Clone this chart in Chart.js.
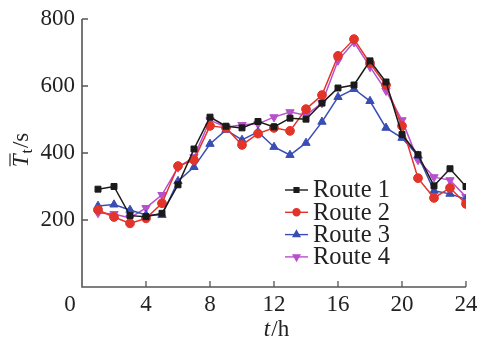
<!DOCTYPE html>
<html><head><meta charset="utf-8">
<script src="https://cdn.jsdelivr.net/npm/chart.js@4/dist/chart.umd.min.js"></script>
<style>html,body{margin:0;padding:0;background:#fff}#wrap{width:477px;height:345px}</style>
</head><body><div id="wrap"><canvas id="c" width="477" height="345"></canvas></div>
<script>
const hours = [1,2,3,4,5,6,7,8,9,10,11,12,13,14,15,16,17,18,19,20,21,22,23,24];
const seriesNames = ['Route 1','Route 2','Route 3','Route 4'];
const route1 = [292,300,213,210,220,305,412,507,480,475,494,478,504,501,549,594,603,675,612,455,395,302,353,300];
const route2 = [230,209,190,205,250,361,379,481,475,424,458,475,466,531,573,690,740,668,603,481,325,266,296,248];
const route3 = [242,246,230,215,215,316,358,427,469,439,463,418,394,430,493,567,591,555,475,445,392,287,278,262];
const route4 = [221,218,206,236,275,357,388,498,477,484,487,507,522,513,549,676,731,657,586,498,379,328,319,269];
const xTicks = [0,4,8,12,16,20,24];
const yTicks = [0,200,400,600,800];

const FONT = '"Liberation Serif", "Times New Roman", serif';
const AXIS = '#555';
const colors = ['#1a1a1a','#e3342a','#3a4db4','#b84fcc'];
const styles = ['rect','circle','triangle','triangle'];
const rots = [0,0,0,180];
const radii = [4.2,4.4,4.8,4.8];
const allData = [route1,route2,route3,route4];

const datasets = allData.map((d,i)=>({
  label: seriesNames[i],
  data: hours.map((h,j)=>({x:h,y:d[j]})),
  borderColor: colors[i],
  backgroundColor: colors[i],
  borderWidth: 1.5,
  pointStyle: styles[i],
  pointRotation: rots[i],
  pointRadius: radii[i],
  pointBorderWidth: 1,
  tension: 0
}));

const deco = {
  id:'deco',
  afterDraw(chart){
    const ctx = chart.ctx, xs = chart.scales.x, ys = chart.scales.y;
    const L = xs.left, B = ys.bottom, T = ys.top, R = xs.right;
    ctx.save();
    ctx.strokeStyle = AXIS; ctx.lineWidth = 1.6;
    ctx.beginPath(); ctx.moveTo(L, T); ctx.lineTo(L, B); ctx.lineTo(R, B); ctx.stroke();
    ctx.lineWidth = 1.3;
    ctx.beginPath();
    xTicks.forEach(v=>{ if(v===0) return; const px = xs.getPixelForValue(v); ctx.moveTo(px,B); ctx.lineTo(px,B-6); });
    yTicks.forEach(v=>{ if(v===0) return; const py = ys.getPixelForValue(v); ctx.moveTo(L,py); ctx.lineTo(L+6,py); });
    ctx.stroke();
    // corner zero
    ctx.fillStyle = '#222';
    ctx.font = '23px ' + FONT;
    ctx.textAlign = 'center'; ctx.textBaseline = 'middle';
    ctx.fillText('0', L - 12, B + 18);
    // x title
    ctx.textBaseline = 'alphabetic';
    ctx.textAlign = 'left';
    const xt = 'italic 23px ' + FONT;
    ctx.font = xt; const wT = ctx.measureText('t').width;
    ctx.font = '23px ' + FONT; const wR = ctx.measureText('/h').width;
    let x0 = (L+R)/2 - (wT+wR)/2 + 2;
    ctx.font = xt; ctx.fillText('t', x0, 336);
    ctx.font = '23px ' + FONT; ctx.fillText('/h', x0 + wT + 1, 336);
    // y title rotated
    ctx.save();
    ctx.translate(28, 150);
    ctx.rotate(-Math.PI/2);
    ctx.font = 'italic 23px ' + FONT; const w1 = ctx.measureText('T').width;
    ctx.font = '16px ' + FONT; const w2 = ctx.measureText('t').width;
    ctx.font = '23px ' + FONT; const w3 = ctx.measureText('/s').width;
    let sx = -(w1+w2+w3+2)/2;
    ctx.font = 'italic 23px ' + FONT; ctx.fillText('T', sx, 0);
    ctx.strokeStyle = '#222'; ctx.lineWidth = 1.1;
    ctx.beginPath(); ctx.moveTo(sx+1, -18); ctx.lineTo(sx+w1+1, -18); ctx.stroke();
    ctx.font = '16px ' + FONT; ctx.fillText('t', sx + w1 + 1, 4);
    ctx.font = '23px ' + FONT; ctx.fillText('/s', sx + w1 + w2 + 2, 0);
    ctx.restore();
    // legend
    const lx0 = 285, lx1 = 308, tx = 313, ly0 = 190, dy = 22.3;
    chart.data.datasets.forEach((ds,i)=>{
      const y = ly0 + i*dy;
      ctx.strokeStyle = ds.borderColor; ctx.lineWidth = 1.4;
      ctx.beginPath(); ctx.moveTo(lx0,y); ctx.lineTo(lx1,y); ctx.stroke();
      ctx.fillStyle = ds.backgroundColor;
      Chart.helpers.drawPoint(ctx, {pointStyle: ds.pointStyle, rotation: ds.pointRotation, radius: ds.pointRadius*0.8, borderWidth: 1}, (lx0+lx1)/2, y);
      ctx.fillStyle = '#222';
      ctx.font = '24.5px ' + FONT; ctx.textAlign = 'left'; ctx.textBaseline = 'middle';
      ctx.fillText(ds.label, tx, y + 1);
    });
    ctx.restore();
  }
};

new Chart(document.getElementById('c'), {
  type: 'line',
  data: { datasets },
  options: {
    responsive: false,
    animation: false,
    layout: { padding: { left: 0, right: 11, top: 19, bottom: 0 } },
    plugins: { legend: { display: false }, tooltip: { enabled: false } },
    scales: {
      x: {
        type: 'linear', min: 0, max: 24,
        afterBuildTicks: s => { s.ticks = xTicks.map(v=>({value:v})); },
        afterFit: s => { s.height = 58; s.paddingLeft = 0; s.paddingRight = 0; },
        grid: { display: false, drawTicks: false },
        border: { display: false },
        ticks: { color: '#222', font: { family: FONT, size: 23 }, padding: 4, maxRotation: 0, autoSkip: false,
                 callback: v => v === 0 ? '' : String(v) }
      },
      y: {
        type: 'linear', min: 0, max: 800,
        afterBuildTicks: s => { s.ticks = yTicks.map(v=>({value:v})); },
        afterFit: s => { s.width = 82; s.paddingTop = 0; s.paddingBottom = 0; },
        grid: { display: false, drawTicks: false },
        border: { display: false },
        ticks: { color: '#222', font: { family: FONT, size: 23 }, padding: 7,
                 callback: v => v === 0 ? '' : String(v) }
      }
    }
  },
  plugins: [deco]
});
</script>
</body></html>
